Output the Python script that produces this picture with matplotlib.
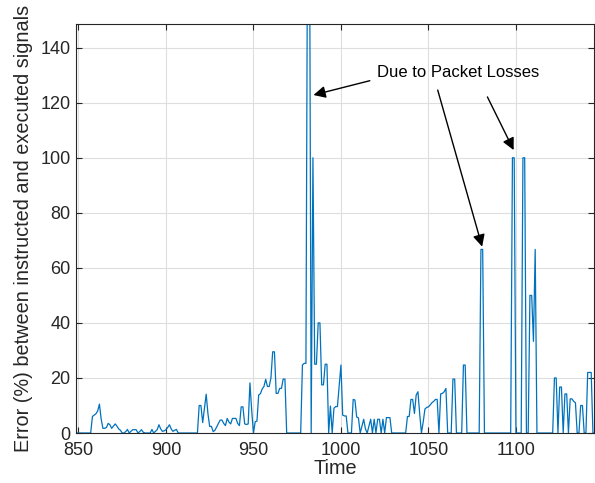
"""
Error between instructed and executed signals over time.
"""
import numpy as np
import matplotlib
matplotlib.use("Agg")
import matplotlib.pyplot as plt

# one sample per time step, 849 .. 1145
time = np.arange(849, 1146)
error_pct = [
    0,
    0, 0, 0, 0, 0, 0, 0, 0, 6, 6.5,                          # 850
    7, 8, 10.5, 5, 1.7, 1.7, 2, 3.5, 3, 1.7,                 # 860
    2.5, 3.3, 2.5, 1.5, 1, 0, 0, 0.5, 1.3, 0,                # 870
    0.6, 1.2, 1.2, 1.2, 0, 0.5, 1.2, 0.3, 0, 0,              # 880
    0, 0, 1.3, 0, 0.6, 1.2, 3, 1.5, 0.6, 0.8,                # 890
    1.2, 2, 3, 1.5, 0.6, 1, 1.3, 0, 0, 0,                    # 900
    0, 0, 0, 0, 0, 0, 0, 0, 0, 10,                           # 910
    10, 3.8, 9, 14.1, 7, 2.4, 2.4, 0.5, 1, 2.2,              # 920
    3.5, 4.7, 4.7, 3.5, 2.7, 5.3, 4, 3.3, 5.3, 5.3,          # 930
    5.3, 3.5, 2.7, 9.5, 9.5, 3.3, 3.1, 3.3, 18.2, 8.3,       # 940
    0, 4.1, 4.3, 13.8, 14.3, 16, 16.9, 19.5, 16.9, 16.9,     # 950
    20, 29.5, 29.5, 14.4, 14.4, 16.2, 16.2, 19.6, 19.6, 0,   # 960
    0, 0, 0, 0, 0, 0, 0, 0, 24.7, 25.3,                      # 970
    25.3, 200, 200, 0, 100, 25, 25, 40, 40, 17.5,            # 980
    17.5, 25, 25, 0, 9.8, 0, 9, 9.6, 9.6, 17,                # 990
    24.7, 6.5, 6.2, 6.2, 0, 0, 0, 12.2, 12, 5.8,             # 1000
    5.5, 0, 2.5, 5, 1.5, 0, 2.5, 5, 0, 5,                    # 1010
    0, 5, 5, 0, 5, 0, 5.6, 5.6, 5.6, 0,                      # 1020
    0, 0, 0, 0, 0, 0, 0, 0, 6, 6,                            # 1030
    12.2, 12.2, 7.1, 13.8, 15, 7, 0, 4, 8.7, 9.3,            # 1040
    9.5, 10.2, 11, 11.5, 12.2, 12.2, 0, 14.2, 14.4, 15,      # 1050
    16.2, 0, 0, 0, 19.6, 19.6, 0, 0, 0, 0,                   # 1060
    24.7, 24.7, 0, 0, 0, 0, 0, 0, 0, 0,                      # 1070
    66.7, 66.7, 0, 0, 0, 0, 0, 0, 0, 0,                      # 1080
    0, 0, 0, 0, 0, 0, 0, 0, 100, 100,                        # 1090
    0, 0, 0, 0, 100, 100, 0, 0, 50, 50,                      # 1100
    33.3, 66.7, 0, 0, 0, 0, 0, 0, 0, 0,                      # 1110
    0, 0, 20, 20, 0, 16.7, 16.7, 0, 14.2, 14.2,              # 1120
    0, 12.4, 12.4, 11.5, 11, 0, 0, 10, 10, 0,                # 1130
    0, 22, 22, 22, 0, 0,                                     # 1140
]

x_ticks = [850, 900, 950, 1000, 1050, 1100]
y_ticks = [0, 20, 40, 60, 80, 100, 120, 140]

note = "Due to Packet Losses"
note_pos = (1067.2, 130.8)
# (tip, tail) of each arrow
arrows = [
    ((984.3, 122.8), (1016.5, 128.0)),
    ((1080.7, 67.7), (1055.3, 124.6)),
    ((1098.7, 102.8), (1083.7, 122.1)),
]

plt.rcParams["font.family"] = ["Liberation Sans", "DejaVu Sans"]

fig = plt.figure(figsize=(5.95, 4.83), dpi=100)
ax = fig.add_axes([0.1277, 0.1035, 0.8706, 0.8468])

ax.plot(time, error_pct, color="#0072BD", linewidth=0.9)

ax.set_xlim(848.6, 1144.6)
ax.set_ylim(0, 148.6)
ax.set_xticks(x_ticks)
ax.set_yticks(y_ticks)
ax.grid(True, color="#dedede", linewidth=0.8)
ax.set_axisbelow(True)

ax.tick_params(direction="in", top=True, right=True, length=4,
               width=0.8, color="#262626", labelsize=13,
               labelcolor="#262626")
ax.tick_params(axis="x", pad=6.5)
ax.tick_params(axis="y", pad=4)
for spine in ax.spines.values():
    spine.set_color("#262626")
    spine.set_linewidth(0.8)

ax.set_xlabel("Time", fontsize=14.3, color="#262626", labelpad=0)
ax.set_ylabel("Error (%) between instructed and executed signals",
              fontsize=14.3, color="#262626", labelpad=5)

ax.text(*note_pos, note, fontsize=12, ha="center", va="center")
for tip, tail in arrows:
    ax.annotate("", xy=tip, xytext=tail,
                arrowprops=dict(arrowstyle="-|>", color="black", lw=1,
                                mutation_scale=18, shrinkA=0, shrinkB=0))

fig.savefig("out.png", dpi=100)
